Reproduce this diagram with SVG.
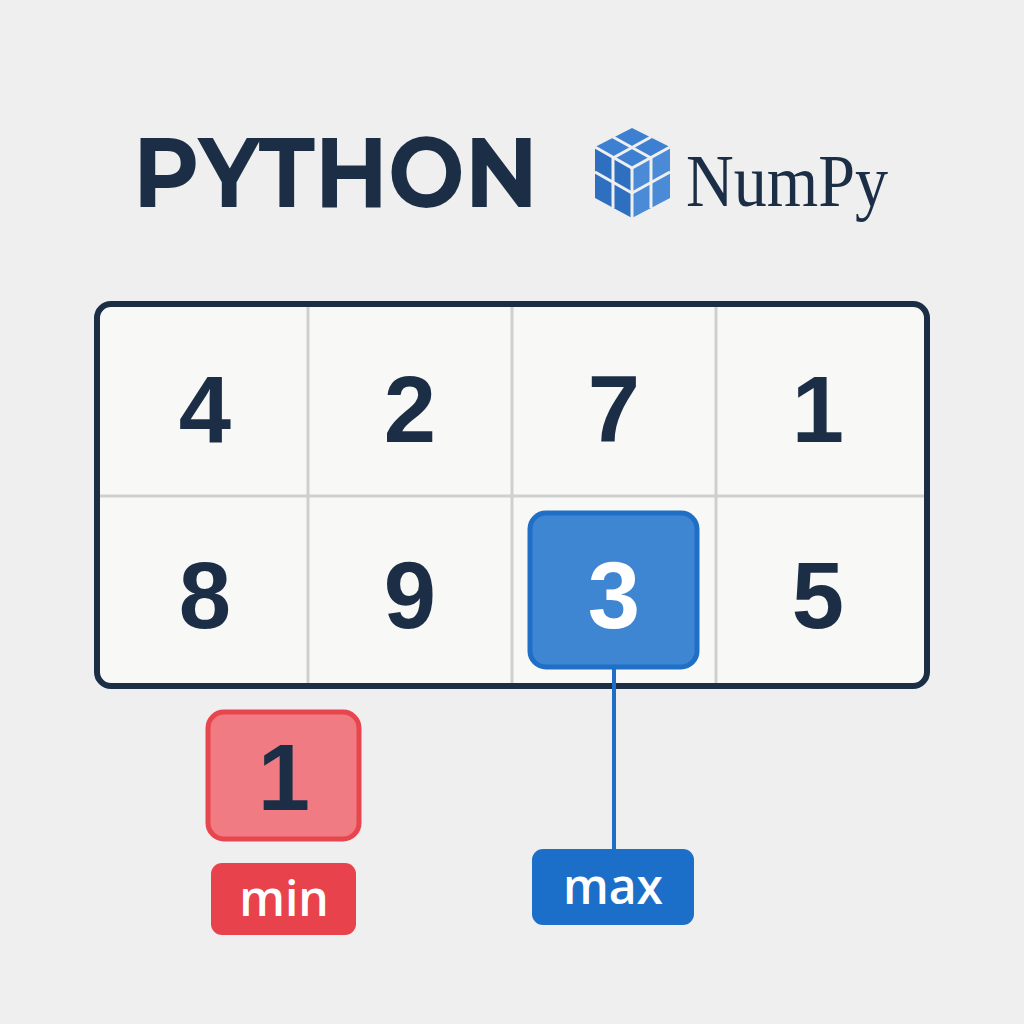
<svg xmlns="http://www.w3.org/2000/svg" width="1024" height="1024" viewBox="0 0 1024 1024">
<style>
.num{font-family:"Liberation Sans",Arial,sans-serif;font-weight:bold;font-size:94px;fill:#1b2e45;text-anchor:middle}
.lbl{font-family:"Open Sans","Liberation Sans",sans-serif;font-weight:600;font-size:48px;fill:#fff;text-anchor:middle}
.cell{fill:#f8f8f7}
.gl{stroke:#cfcfcf;stroke-width:3}
</style>
<rect width="1024" height="1024" fill="#efefef"/>
<g id="title">
<text x="133" y="207" font-family="Montserrat,'Liberation Sans',sans-serif" font-weight="bold" font-size="98" fill="#1b2e45" textLength="405" lengthAdjust="spacingAndGlyphs">PYTHON</text>
</g>
<g id="numpy-logo">
<polygon points="632,128 670,147 632,168 595,147" fill="#3d7fd0"/>
<polygon points="595,147 632,168 632,218 595,198" fill="#2f6fc0"/>
<polygon points="632,168 670,147 670,198 632,218" fill="#4a8ad6"/>
<g stroke="#efefef" stroke-width="3" fill="none">
<line x1="613" y1="137" x2="651" y2="158"/><line x1="651" y1="137" x2="613" y2="158"/>
<line x1="613" y1="158" x2="613" y2="208"/><line x1="595" y1="172" x2="632" y2="193"/>
<line x1="651" y1="158" x2="651" y2="208"/><line x1="632" y1="193" x2="670" y2="172"/>
<polyline points="595,147 632,168 670,147"/><line x1="632" y1="168" x2="632" y2="218"/>
</g>
<text x="686" y="206" font-family="'Liberation Serif','DejaVu Serif',serif" font-size="74" fill="#1b2e45" textLength="202" lengthAdjust="spacingAndGlyphs">NumPy</text>
</g>
<g id="array">
<rect x="97" y="304" width="830" height="382" rx="14" class="cell"/>
<line class="gl" x1="308" y1="304" x2="308" y2="686"/>
<line class="gl" x1="512" y1="304" x2="512" y2="686"/>
<line class="gl" x1="716" y1="304" x2="716" y2="686"/>
<line class="gl" x1="97" y1="496" x2="927" y2="496"/>
<rect x="97" y="304" width="830" height="382" rx="14" fill="none" stroke="#1b2e45" stroke-width="6"/>
<text class="num" x="205" y="442">4</text>
<text class="num" x="410" y="442">2</text>
<text class="num" x="614" y="442">7</text>
<text class="num" x="818" y="442">1</text>
<text class="num" x="205" y="628">8</text>
<text class="num" x="410" y="628">9</text>
<text class="num" x="818" y="628">5</text>
</g>
<g id="connectors">
<line x1="614" y1="668" x2="614" y2="850" stroke="#1f6fc6" stroke-width="4"/>
</g>
<g id="max-cell">
<rect x="530" y="513" width="167" height="154" rx="16" fill="#3f86d2" stroke="#1f6fc6" stroke-width="5"/>
<text class="num" x="614" y="628" style="fill:#fff">3</text>
</g>
<g id="max-label">
<rect x="532" y="849" width="162" height="76" rx="11" fill="#1c6fc8"/>
<text class="lbl" x="613" y="904">max</text>
</g>
<g id="min-box">
<rect x="208" y="712" width="151" height="127" rx="16" fill="#f07b82" stroke="#e8464e" stroke-width="5"/>
<text class="num" x="284" y="810">1</text>
</g>
<g id="min-label">
<rect x="211" y="863" width="145" height="72" rx="11" fill="#e8434c"/>
<text class="lbl" x="284" y="916">min</text>
</g>
</svg>
